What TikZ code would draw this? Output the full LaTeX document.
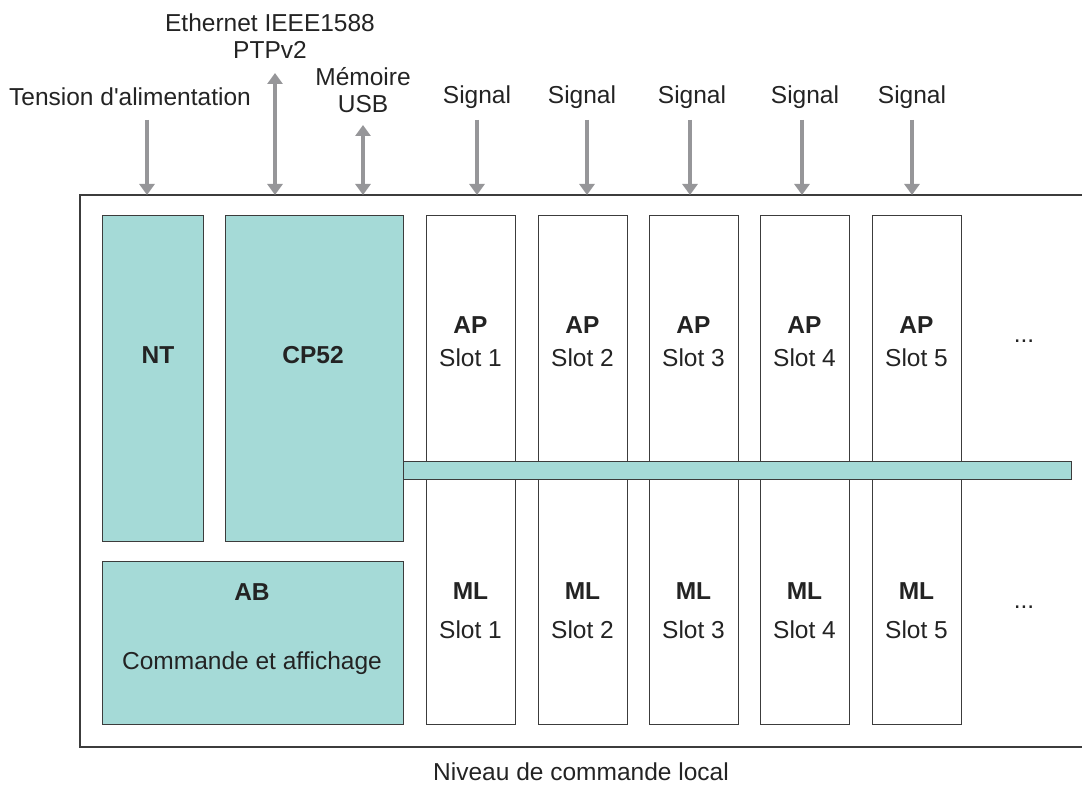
\documentclass[tikz,border=0pt]{standalone}
\usepackage{fontspec}
\setmainfont{Liberation Sans}
\usetikzlibrary{arrows.meta}

\definecolor{modfill}{RGB}{165,218,215}
\definecolor{framegray}{RGB}{60,60,60}
\definecolor{arrowgray}{RGB}{150,150,153}
\definecolor{textgray}{RGB}{35,35,35}

\begin{document}
\begin{tikzpicture}[x=1pt, y=-1pt,
    box/.style={shape=rectangle, draw=framegray, line width=1.2pt, inner sep=0pt, anchor=north west},
    module/.style={box, fill=modfill},
    slotbox/.style={box, fill=white, minimum width=89pt},
    lbl/.style={text=textgray, font=\fontsize{24.5}{27}\selectfont, align=center, inner sep=0pt},
    bold/.style={lbl, font=\fontsize{24.5}{27}\selectfont\bfseries},
    io/.style={draw=arrowgray, line width=4.5pt, -{Triangle[length=11pt,width=15pt]}},
    bidir/.style={io, {Triangle[length=11pt,width=15pt]}-{Triangle[length=11pt,width=15pt]}}]
  \useasboundingbox (0,0) rectangle (1082,789);

  % outer frame, open to the right
  \draw[framegray, line width=1.2pt] (1082,195) -- (80,195) -- (80,747) -- (1082,747);

  % modules
  \node[module, minimum width=668pt, minimum height=18pt] (bus) at (403,461) {};
  \node[module, minimum width=101pt, minimum height=326pt] (nt) at (102,215) {};
  \node[module, minimum width=178pt, minimum height=326pt] (cp) at (225,215) {};
  \node[module, minimum width=301pt, minimum height=163pt] (ab) at (102,561) {};

  \node[bold] (ntlabel) at (158,355) {NT};
  \node[bold] (cplabel) at (313,355) {CP52};
  \node[bold] (ablabel) at (252,592) {AB};
  \node[lbl] (abtext) at (252,663) {Commande et affichage};

  % slots
  \foreach \i/\x in {1/426,2/538,3/649,4/760,5/872} {
    \node[slotbox, minimum height=246pt] (ap\i) at (\x,215) {};
    \node[slotbox, minimum height=245pt] (ml\i) at (\x,479) {};
    \node[bold] (aplabel\i) at (\x+44.5,325) {AP};
    \node[lbl] (apslot\i) at (\x+44.5,358) {Slot \i};
    \node[bold] (mllabel\i) at (\x+44.5,591) {ML};
    \node[lbl] (mlslot\i) at (\x+44.5,630) {Slot \i};
  }
  \node[lbl] (apmore) at (1024,341) {...};
  \node[lbl] (mlmore) at (1024,607) {...};

  % inputs and outputs
  \node[lbl] (power) at (130,97) {Tension d\textquotesingle alimentation};
  \node[lbl] (eth) at (270,36) {Ethernet IEEE1588\\PTPv2};
  \node[lbl] (usb) at (363,90) {Mémoire\\USB};

  \coordinate (powertop) at (147,120);
  \coordinate (powerbot) at (147,195);
  \coordinate (ethtop) at (275,73);
  \coordinate (ethbot) at (275,195);
  \coordinate (usbtop) at (363,125);
  \coordinate (usbbot) at (363,195);

  \draw[io] (powertop) to (powerbot);
  \draw[bidir] (ethtop) to (ethbot);
  \draw[bidir] (usbtop) to (usbbot);

  \foreach \i/\x/\lx in {1/477/477,2/587/582,3/690/692,4/802/805,5/912/912} {
    \node[lbl] (sig\i) at (\lx,97) {Signal};
    \coordinate (sigtop\i) at (\x,120);
    \coordinate (sigbot\i) at (\x,195);
    \draw[io] (sigtop\i) to (sigbot\i);
  }

  \node[lbl] (level) at (581,772) {Niveau de commande local};
\end{tikzpicture}
\end{document}
